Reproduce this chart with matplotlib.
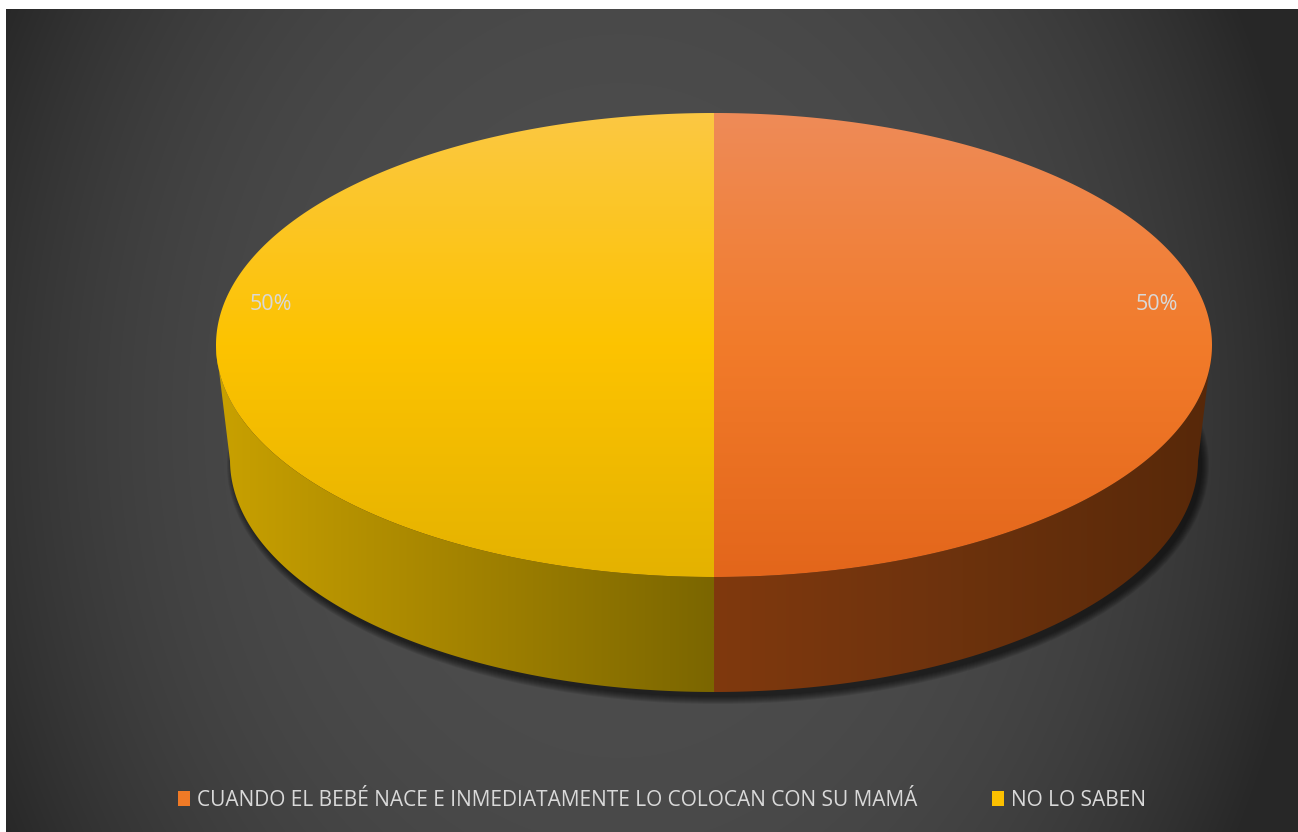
import numpy as np
import matplotlib.pyplot as plt
from matplotlib.patches import Polygon, Patch, Ellipse
from matplotlib.colors import LinearSegmentedColormap, to_rgb

plt.rcParams['font.family'] = ['Open Sans', 'DejaVu Sans']

# survey answers
categories = ["CUANDO EL BEBÉ NACE E INMEDIATAMENTE LO COLOCAN CON SU MAMÁ", "NO LO SABEN"]
values = [50, 50]
colors = ["#f07a26", "#fcc000"]
# top face shades (top -> bottom) and side wall shades (left -> right)
top_shades = [["#ee8b58", "#f27b2a", "#e3661b"], ["#fbc843", "#fdc300", "#e4b200"]]
side_shades = [["#80390e", "#6c320d", "#572809"], ["#c9a100", "#a38300", "#7b6600"]]

W, H = 1298, 832
fig = plt.figure(figsize=(W / 100, H / 100), dpi=100, facecolor="white")
ax = fig.add_axes([0, 0, 1, 1])
ax.set_axis_off()

# dark radial backdrop
bx0, bx1, by0, by1 = 6, W, 9, H
xx, yy = np.meshgrid(np.arange(bx0, bx1), np.arange(by0, by1))
d = np.sqrt(((xx - 620) / 700.0) ** 2 + ((yy - 420) / 900.0) ** 2).clip(0, 1)
c0, c1 = np.array(to_rgb("#4d4d4d")), np.array(to_rgb("#272727"))
bg = c0 + (c1 - c0) * d[..., None] ** 3
ax.imshow(bg, extent=[bx0, bx1, by1, by0], zorder=0, interpolation="bilinear")

# pie geometry (pixels)
cx, cy, a, b = 714, 345, 498, 232
cy2, a2 = 460, 484


def gradient_fill(poly, cols, vertical, z):
    cmap = LinearSegmentedColormap.from_list("g", cols)
    x0, y0 = poly.min(0)
    x1, y1 = poly.max(0)
    g = np.linspace(0, 1, 256)
    img = g[:, None] if vertical else g[None, :]
    im = ax.imshow(img, cmap=cmap, extent=[x0, x1, y1, y0], aspect="auto",
                   zorder=z, interpolation="bilinear")
    patch = Polygon(poly, closed=True, facecolor="none", edgecolor="none", zorder=z)
    ax.add_patch(patch)
    im.set_clip_path(patch)


# soft shadow under the pie
for k in range(8):
    ax.add_patch(Ellipse((cx + 4, cy2 + 5), 2 * a2 + 2 * k, 2 * b + 2 * k,
                         facecolor="black", edgecolor="none", alpha=0.09, zorder=1))

total = sum(values)
start = 90.0
for v, lab, ts, ss in zip(values, categories, top_shades, side_shades):
    end = start - 360.0 * v / total
    t = np.linspace(start, end, 400)
    r = np.radians(t)

    # side wall for the part of the rim facing the viewer
    front = np.sin(r) <= 1e-9
    if front.any():
        idx = np.where(front)[0]
        groups = np.split(idx, np.where(np.diff(idx) > 1)[0] + 1)
        for gi in groups:
            rr = r[gi]
            topx, topy = cx + a * np.cos(rr), cy - b * np.sin(rr)
            botx, boty = cx + a2 * np.cos(rr), cy2 - b * np.sin(rr)
            poly = np.column_stack([np.r_[topx, botx[::-1]], np.r_[topy, boty[::-1]]])
            gradient_fill(poly, ss, vertical=False, z=2)

    # top face wedge
    arcx, arcy = cx + a * np.cos(r), cy - b * np.sin(r)
    poly = np.column_stack([np.r_[cx, arcx], np.r_[cy, arcy]])
    gradient_fill(poly, ts, vertical=True, z=3)

    # percentage label
    mid = np.radians((start + end) / 2)
    ax.text(cx + 0.89 * a * np.cos(mid), cy - 0.89 * b * np.sin(mid) - 40,
            f"{v / total * 100:.0f}%", color="#d9d9d9", fontsize=15.5,
            ha="center", va="center", zorder=5)
    start = end

handles = [Patch(facecolor=c, edgecolor="none", label=l) for c, l in zip(colors, categories)]
fig.legend(handles=handles, loc="center", bbox_to_anchor=(662 / W, 1 - 800 / H), ncol=2,
           frameon=False, fontsize=15, labelcolor="#d9d9d9", handlelength=0.58,
           handleheight=0.75, handletextpad=0.34, columnspacing=3.55)

ax.set_xlim(0, W)
ax.set_ylim(H, 0)
fig.savefig("out.png", dpi=100, facecolor="white")
